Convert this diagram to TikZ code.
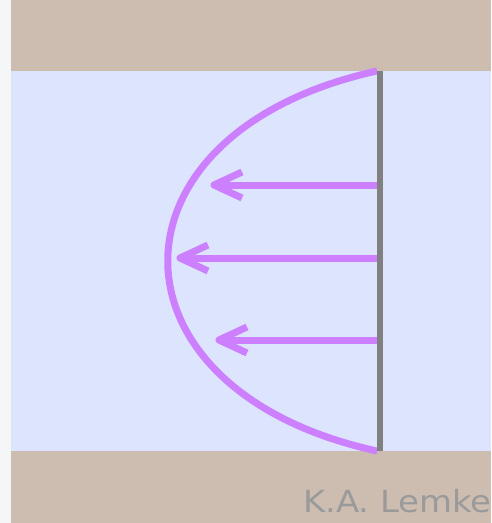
\documentclass[tikz,border=0pt]{standalone}
\usepackage{fontspec}
\usetikzlibrary{calc}
\newfontfamily\lemkefont{DejaVu Sans}
\definecolor{tan}{HTML}{CDBDB1}
\definecolor{flow}{HTML}{DCE4FE}
\definecolor{strip}{HTML}{F4F6F7}
\definecolor{prof}{HTML}{CC80FF}
\definecolor{wallgray}{HTML}{808080}
\definecolor{credit}{HTML}{9A9A9A}
\begin{document}
\begin{tikzpicture}[x=1pt,y=-1pt,
  profile/.style={draw=prof,line width=7pt},
  shaft/.style={draw=prof,line width=7pt},
  barb/.style={draw=prof,line width=7pt,line join=round}]
\useasboundingbox (0,0) rectangle (491,523);
\clip (0,0) rectangle (491,523);
\fill[strip] (0,0) rectangle (11,523);
\fill[tan] (11,0) rectangle (491,71);
\fill[flow] (11,71) rectangle (491,451);
\fill[tan] (11,451) rectangle (491,523);
% velocity profile
\coordinate (ptop) at (377,71);
\coordinate (pbot) at (377,451);
\draw[profile] (ptop) .. controls (98,132) and (98,390) .. (pbot);
% wall line
\draw[wallgray,line width=6.5pt] (380,71) -- (380,451);
% arrows
\coordinate (s1) at (377,185); \coordinate (t1) at (214,185);
\coordinate (s2) at (377,258); \coordinate (t2) at (180,258);
\coordinate (s3) at (377,340); \coordinate (t3) at (219,340);
\foreach \i in {1,2,3}{
  \draw[shaft] (s\i) -- ($(t\i)+(4,0)$);
  \draw[barb] ($(t\i)+(28,-13)$) -- (t\i) -- ($(t\i)+(28,13)$);
}
\node[anchor=base west,inner sep=0pt,text=credit,font=\lemkefont\fontsize{30.5}{31}\selectfont] (credit) at (303,512) {\scalebox{1.11}[1]{K.A. Lemke}};
\end{tikzpicture}
\end{document}
